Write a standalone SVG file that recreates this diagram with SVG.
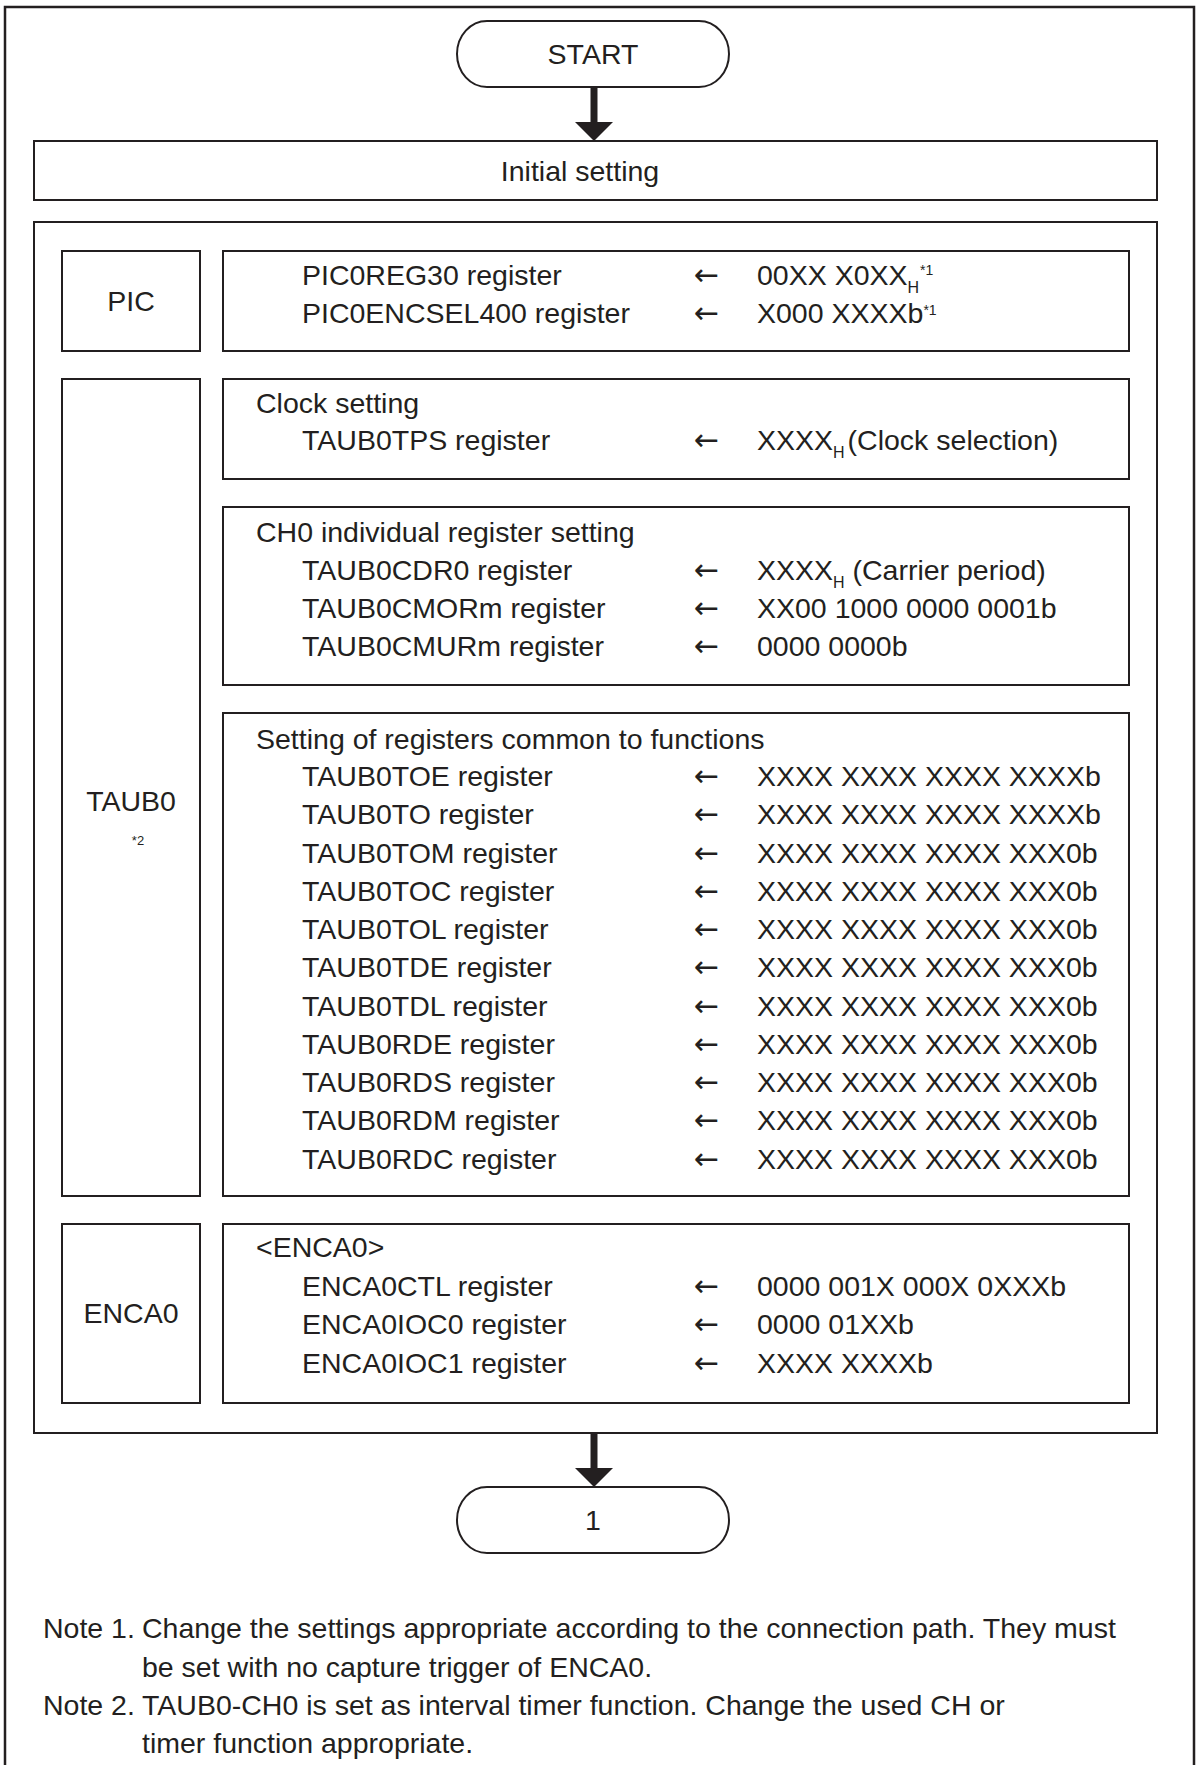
<svg xmlns="http://www.w3.org/2000/svg" width="1200" height="1765" viewBox="0 0 1200 1765">
<style>
text{font-family:"Liberation Sans",Arial,sans-serif;font-size:28.5px;fill:#231f20}
text.arr{font-family:"DejaVu Sans","Liberation Sans",sans-serif;font-size:30px}
.box{fill:none;stroke:#231f20;stroke-width:2}
.frame{fill:none;stroke:#231f20;stroke-width:2.5}
.mid{text-anchor:middle}
.sub{font-size:16px}
.sup{font-size:14px}
.shaft{stroke:#231f20;stroke-width:7;fill:none}
.head{fill:#231f20}
</style>
<rect x="0" y="0" width="1200" height="1765" fill="#ffffff"/>
<path class="frame" d="M5,1775 V7 H1194 V1775"/>

<g id="connectors">
  <line class="shaft" x1="594" y1="87" x2="594" y2="124"/>
  <polygon class="head" points="575,122 613,122 594,141"/>
  <line class="shaft" x1="594" y1="1433" x2="594" y2="1470"/>
  <polygon class="head" points="575,1468 613,1468 594,1487"/>
</g>

<g id="start">
  <rect class="box" x="457" y="21" width="272" height="66" rx="30" ry="33"/>
  <text class="mid" x="593" y="64">START</text>
</g>

<g id="initial-setting">
  <rect class="box" x="34" y="141" width="1123" height="59"/>
  <text class="mid" x="580" y="180.5">Initial setting</text>
</g>

<g id="settings-block">
  <rect class="box" x="34" y="222" width="1123" height="1211"/>
</g>

<g id="pic-label">
  <rect class="box" x="62" y="251" width="138" height="100"/>
  <text class="mid" x="131" y="311">PIC</text>
</g>
<g id="pic-regs">
  <rect class="box" x="223" y="251" width="906" height="100"/>
  <text x="302" y="285">PIC0REG30 register</text>
  <text class="arr" x="694" y="285">←</text>
  <text x="757" y="285">00XX X0XX<tspan class="sub" dy="8">H</tspan><tspan class="sup" dy="-18" dx="1">*1</tspan></text>
  <text x="302" y="323">PIC0ENCSEL400 register</text>
  <text class="arr" x="694" y="323">←</text>
  <text x="757" y="323">X000 XXXXb<tspan class="sup" dy="-8">*1</tspan></text>
</g>

<g id="taub0-label">
  <rect class="box" x="62" y="379" width="138" height="817"/>
  <text class="mid" x="131" y="811">TAUB0</text>
  <text class="mid sup" x="138" y="845" style="font-size:13px">*2</text>
</g>

<g id="clock-setting">
  <rect class="box" x="223" y="379" width="906" height="100"/>
  <text x="256" y="413">Clock setting</text>
  <text x="302" y="450">TAUB0TPS register</text>
  <text class="arr" x="694" y="450">←</text>
  <text x="757" y="450">XXXX<tspan class="sub" dy="8">H</tspan><tspan dy="-8" dx="3">(Clock selection)</tspan></text>
</g>

<g id="ch0-setting">
  <rect class="box" x="223" y="507" width="906" height="178"/>
  <text x="256" y="542">CH0 individual register setting</text>
  <text x="302" y="580">TAUB0CDR0 register</text>
  <text class="arr" x="694" y="580">←</text>
  <text x="757" y="580">XXXX<tspan class="sub" dy="8">H</tspan><tspan dy="-8"> (Carrier period)</tspan></text>
  <text x="302" y="618">TAUB0CMORm register</text>
  <text class="arr" x="694" y="618">←</text>
  <text x="757" y="618">XX00 1000 0000 0001b</text>
  <text x="302" y="656">TAUB0CMURm register</text>
  <text class="arr" x="694" y="656">←</text>
  <text x="757" y="656">0000 0000b</text>
</g>

<g id="common-setting">
  <rect class="box" x="223" y="713" width="906" height="483"/>
  <text x="256" y="748.5">Setting of registers common to functions</text>
  <text x="302" y="786">TAUB0TOE register</text><text class="arr" x="694" y="786">←</text><text x="757" y="786">XXXX XXXX XXXX XXXXb</text>
  <text x="302" y="824.3">TAUB0TO register</text><text class="arr" x="694" y="824.3">←</text><text x="757" y="824.3">XXXX XXXX XXXX XXXXb</text>
  <text x="302" y="862.5">TAUB0TOM register</text><text class="arr" x="694" y="862.5">←</text><text x="757" y="862.5">XXXX XXXX XXXX XXX0b</text>
  <text x="302" y="900.8">TAUB0TOC register</text><text class="arr" x="694" y="900.8">←</text><text x="757" y="900.8">XXXX XXXX XXXX XXX0b</text>
  <text x="302" y="939">TAUB0TOL register</text><text class="arr" x="694" y="939">←</text><text x="757" y="939">XXXX XXXX XXXX XXX0b</text>
  <text x="302" y="977.3">TAUB0TDE register</text><text class="arr" x="694" y="977.3">←</text><text x="757" y="977.3">XXXX XXXX XXXX XXX0b</text>
  <text x="302" y="1015.5">TAUB0TDL register</text><text class="arr" x="694" y="1015.5">←</text><text x="757" y="1015.5">XXXX XXXX XXXX XXX0b</text>
  <text x="302" y="1053.8">TAUB0RDE register</text><text class="arr" x="694" y="1053.8">←</text><text x="757" y="1053.8">XXXX XXXX XXXX XXX0b</text>
  <text x="302" y="1092">TAUB0RDS register</text><text class="arr" x="694" y="1092">←</text><text x="757" y="1092">XXXX XXXX XXXX XXX0b</text>
  <text x="302" y="1130.3">TAUB0RDM register</text><text class="arr" x="694" y="1130.3">←</text><text x="757" y="1130.3">XXXX XXXX XXXX XXX0b</text>
  <text x="302" y="1168.5">TAUB0RDC register</text><text class="arr" x="694" y="1168.5">←</text><text x="757" y="1168.5">XXXX XXXX XXXX XXX0b</text>
</g>

<g id="enca0-label">
  <rect class="box" x="62" y="1224" width="138" height="179"/>
  <text class="mid" x="131" y="1323">ENCA0</text>
</g>
<g id="enca0-regs">
  <rect class="box" x="223" y="1224" width="906" height="179"/>
  <text x="256" y="1257">&lt;ENCA0&gt;</text>
  <text x="302" y="1295.5">ENCA0CTL register</text><text class="arr" x="694" y="1295.5">←</text><text x="757" y="1295.5">0000 001X 000X 0XXXb</text>
  <text x="302" y="1334">ENCA0IOC0 register</text><text class="arr" x="694" y="1334">←</text><text x="757" y="1334">0000 01XXb</text>
  <text x="302" y="1373">ENCA0IOC1 register</text><text class="arr" x="694" y="1373">←</text><text x="757" y="1373">XXXX XXXXb</text>
</g>

<g id="terminal-1">
  <rect class="box" x="457" y="1487" width="272" height="66" rx="30" ry="33"/>
  <text class="mid" x="593" y="1530">1</text>
</g>

<g id="notes">
  <text x="43" y="1638">Note 1.</text>
  <text x="142" y="1638">Change the settings appropriate according to the connection path. They must</text>
  <text x="142" y="1677">be set with no capture trigger of ENCA0.</text>
  <text x="43" y="1715">Note 2.</text>
  <text x="142" y="1715">TAUB0-CH0 is set as interval timer function. Change the used CH or</text>
  <text x="142" y="1753">timer function appropriate.</text>
</g>
</svg>
